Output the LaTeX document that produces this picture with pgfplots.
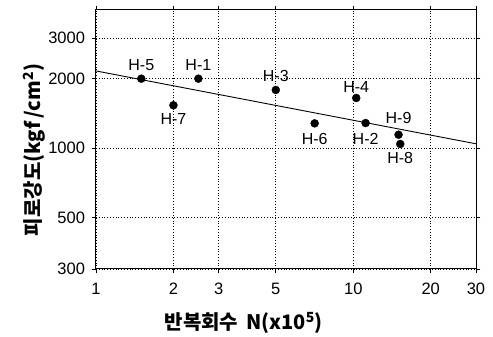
\documentclass[border=0pt]{standalone}
\usepackage{fontspec}
\setmainfont{Liberation Sans}
\newfontfamily\kr{Noto Sans CJK KR}
\usepackage{pgfplots}
\pgfplotsset{compat=1.18}
\begin{document}
\begin{tikzpicture}
\begin{axis}[
  scale only axis,
  width=380pt, height=259pt,
  xmode=log, ymode=log,
  xmin=1, xmax=30, ymin=300, ymax=3966,
  xtick={1,2,3,5,10,20,30},
  xticklabels={1,2,3,5,10,20,30},
  ytick={300,500,1000,2000,3000},
  yticklabels={300,500,1000,2000,3000},
  grid=major,
  major grid style={black, dash pattern=on 0.8pt off 2pt, line width=0.8pt},
  tick style={black, line width=0.8pt},
  tick align=outside,
  major tick length=4.5pt,
  minor tick num=0,
  axis line style={line width=1pt},
  /pgf/number format/assume math mode=true,
  tick label style={font=\fontsize{16.5}{18}\selectfont},
  xticklabel style={yshift=-6pt},
  yticklabel style={xshift=-3pt},
  xlabel={\kr\bfseries\fontsize{20}{22}\selectfont 반복회수\hspace{8pt}N(x10\textsuperscript{5})},
  ylabel={\kr\bfseries\fontsize{20}{22}\selectfont 피로강도(kgf\,/cm\textsuperscript{2})},
  xlabel style={at={(axis description cs:0.389,-0.208)}, anchor=center},
  ylabel style={at={(axis description cs:-0.162,0.46)}, anchor=center},
  clip=false,
]
\addplot[black, line width=0.9pt] coordinates {(1,2160) (30,1045)};
\addplot[only marks, mark=*, mark size=4pt, black,
  nodes near coords, point meta=explicit symbolic,
  visualization depends on={value \thisrow{dy}\as\dy},
  every node near coord/.style={font=\fontsize{16}{18}\selectfont, anchor=center, inner sep=0pt, yshift=\dy pt},
] table[meta=label] {
x y label dy
1.5 2000 H-5 13.3
2.5 2000 H-1 13.3
2 1534 H-7 -14
5 1787 H-3 14
10.27 1650 H-4 11.3
7.08 1281 H-6 -16
11.17 1285 H-2 -15.7
15.0 1144 H-9 16.4
15.23 1043 H-8 -14.3
};
\end{axis}
\pgfresetboundingbox
\path[use as bounding box] ([shift={(-96pt,-68pt)}]current axis.south west) rectangle ([shift={(17pt,10pt)}]current axis.north east);
\end{tikzpicture}
\end{document}
